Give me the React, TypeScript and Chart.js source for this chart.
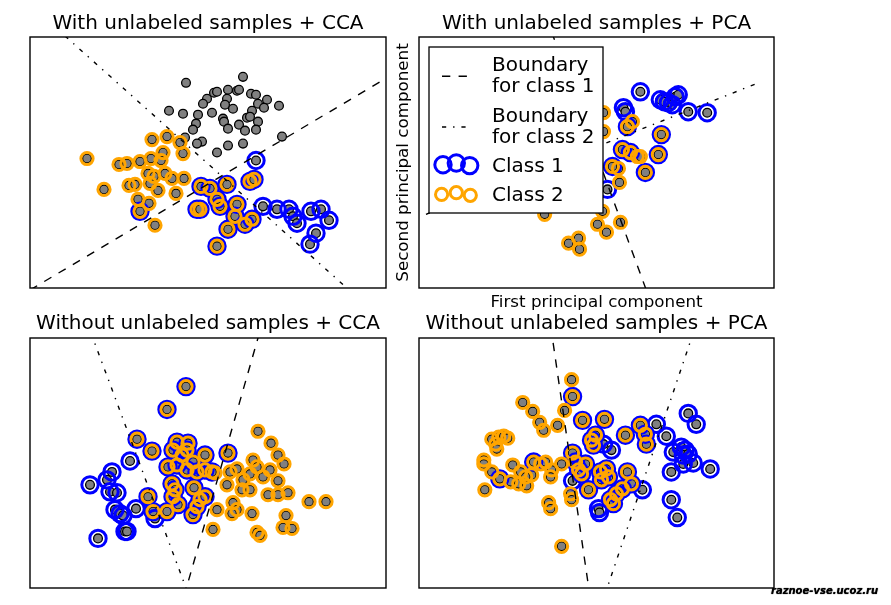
import { useEffect, useRef } from "react";
import { Chart, registerables } from "chart.js";

Chart.register(...registerables);

type P = [number, number];

const FONT = "'DejaVu Sans', 'Liberation Sans', sans-serif";

// ---------- Panel 1: With unlabeled samples + CCA ----------
const s1Unlabeled: P[] = [
  [156, 46], [213, 40], [184, 56], [187, 55], [198, 53], [207, 54], [209, 53], [221, 57], [226, 58],
  [237, 63], [177, 62], [173, 67], [197, 62], [195, 68], [203, 72], [228, 67], [234, 71], [249, 69],
  [222, 74], [139, 74], [153, 77], [168, 78], [182, 76], [217, 81], [193, 82], [194, 85], [209, 88],
  [220, 80], [228, 85], [166, 87], [163, 93], [198, 92], [215, 94], [226, 93], [155, 101], [172, 105],
  [167, 107], [198, 109], [213, 107], [252, 100], [187, 116],
];
const s1Class1: P[] = [
  [226, 124], [233, 170], [247, 173], [259, 173], [263, 180], [267, 187], [281, 175], [291, 173],
  [299, 184], [286, 197], [280, 208],
];
const s1Class2: P[] = [
  [57, 122], [122, 103], [137, 100], [150, 106], [153, 117], [133, 116], [121, 122], [110, 125],
  [131, 124], [89, 128], [97, 127], [118, 137], [124, 140], [135, 137], [142, 142], [154, 142],
  [99, 149], [105, 148], [120, 147], [128, 154], [146, 157], [74, 153], [108, 163], [119, 167], [125, 189],
];
const s1Both: P[] = [
  [110, 175], [171, 150], [180, 152], [197, 148], [220, 145], [224, 143], [167, 173], [170, 173],
  [190, 170], [187, 163], [207, 168], [205, 180], [215, 188], [222, 183], [198, 193], [187, 210],
];
const s1Boundary1: P[] = [[0, 254], [360, 39]];
const s1Boundary2: P[] = [[35, -1], [318, 253]];

// ---------- Panel 2: With unlabeled samples + PCA ----------
const s2Unlabeled: P[] = [];
const s2Class1: P[] = [
  [222, 55], [242, 63], [246, 65], [250, 66], [254, 68], [257, 60], [260, 58], [270, 75], [289, 76],
  [205, 71], [207, 75], [189, 153],
];
const s2Class2: P[] = [
  [185, 76], [185, 95], [214, 85], [219, 120], [222, 120], [200, 132], [201, 146],
  [184, 175], [126, 178], [179, 188], [188, 196], [202, 186], [160, 202], [150, 207], [161, 213],
];
const s2Both: P[] = [[209, 90], [204, 113], [212, 116], [243, 98], [240, 118], [194, 130], [227, 136]];
const s2Boundary1: P[] = [[133, -5], [229, 257]];
const s2Boundary2: P[] = [[7, 178], [343, 45]];

// ---------- Panel 3: Without unlabeled samples + CCA ----------
const s3Unlabeled: P[] = [];
const s3Class1: P[] = [
  [60, 148], [68, 202], [77, 143], [82, 135], [80, 155], [87, 156], [85, 173], [90, 177], [93, 179],
  [95, 195], [97, 195], [100, 124], [106, 172], [125, 182],
];
const s3Class2: P[] = [
  [228, 94], [241, 106], [248, 118], [254, 127], [223, 123], [227, 130], [207, 132], [200, 135],
  [197, 148], [213, 143], [220, 137], [233, 140], [240, 133], [248, 144], [212, 153], [220, 153],
  [238, 158], [248, 158], [258, 156], [279, 165], [296, 165], [203, 166], [207, 173], [202, 177],
  [187, 173], [222, 177], [256, 179], [253, 191], [262, 192], [183, 193], [227, 196], [230, 199], [185, 136],
];
const s3Both: P[] = [
  [156, 49], [137, 72], [107, 102], [122, 114], [198, 116], [118, 160], [123, 175], [137, 175],
  [147, 105], [158, 106], [157, 113], [143, 113], [152, 118], [175, 118], [163, 125], [138, 130],
  [147, 128], [157, 133], [167, 135], [175, 133], [182, 135], [142, 147], [145, 153], [143, 160],
  [164, 151], [170, 163], [175, 160], [167, 170], [163, 178], [148, 168],
];
const s3Boundary1: P[] = [[229.4, -5], [156.4, 252]];
const s3Boundary2: P[] = [[61, -5], [156, 252]];

// ---------- Panel 4: Without unlabeled samples + PCA ----------
const s4Unlabeled: P[] = [];
const s4Class1: P[] = [
  [238, 87], [248, 99], [270, 76], [278, 87], [255, 115], [263, 110], [267, 113], [265, 118],
  [270, 117], [275, 126], [265, 127], [253, 135], [292, 132], [224, 153], [253, 163], [259, 181],
  [180, 172], [181, 176], [193, 113], [185, 107], [154, 144],
];
const s4Class2: P[] = [
  [153, 42], [104, 65], [114, 74], [121, 85], [125, 93], [139, 88], [146, 73], [73, 102], [80, 100],
  [85, 99], [89, 101], [77, 107], [78, 112], [65, 123], [65, 127], [73, 135], [94, 128], [92, 145],
  [100, 147], [108, 149], [113, 138], [102, 135], [107, 140], [122, 127], [127, 125], [133, 133],
  [132, 140], [143, 127], [66, 153], [130, 166], [132, 172], [143, 210], [152, 157], [153, 163],
];
const s4Both: P[] = [
  [154, 59], [164, 83], [186, 82], [154, 116], [170, 153], [81, 142], [115, 125], [160, 133],
  [167, 127], [163, 137], [157, 125], [209, 135], [213, 147], [204, 152], [198, 157], [192, 163],
  [195, 167], [182, 135], [188, 132], [190, 140], [183, 143], [173, 103], [177, 98], [175, 108],
  [222, 88], [227, 97], [228, 107], [207, 98],
];
const s4Boundary1: P[] = [[134.5, 5], [170.5, 254]];
const s4Boundary2: P[] = [[275, -5], [188, 254]];

const panelTitles = [
  "With unlabeled samples + CCA",
  "With unlabeled samples + PCA",
  "Without unlabeled samples + CCA",
  "Without unlabeled samples + PCA",
];
const xAxisTitle = "First principal component";
const yAxisTitle = "Second principal component";
const legendLabels = [["Boundary", "for class 1"], ["Boundary", "for class 2"], ["Class 1"], ["Class 2"]];
const watermark = "raznoe-vse.ucoz.ru";

interface PanelDef {
  title: string;
  unlabeled: P[];
  class1: P[];
  class2: P[];
  both: P[];
  b1: P[];
  b2: P[];
  rect: { left: number; right: number; top: number; bottom: number; titleMid: number };
  axisTitles: boolean;
  legend: boolean;
}

const panels: PanelDef[] = [
  { title: panelTitles[0], unlabeled: s1Unlabeled, class1: s1Class1, class2: s1Class2, both: s1Both, b1: s1Boundary1, b2: s1Boundary2,
    rect: { left: 30, right: 386, top: 37, bottom: 288, titleMid: 23.7 }, axisTitles: false, legend: false },
  { title: panelTitles[1], unlabeled: s2Unlabeled, class1: s2Class1, class2: s2Class2, both: s2Both, b1: s2Boundary1, b2: s2Boundary2,
    rect: { left: 419, right: 774, top: 37, bottom: 288, titleMid: 23.7 }, axisTitles: true, legend: true },
  { title: panelTitles[2], unlabeled: s3Unlabeled, class1: s3Class1, class2: s3Class2, both: s3Both, b1: s3Boundary1, b2: s3Boundary2,
    rect: { left: 30, right: 386, top: 338, bottom: 588, titleMid: 323.4 }, axisTitles: false, legend: false },
  { title: panelTitles[3], unlabeled: s4Unlabeled, class1: s4Class1, class2: s4Class2, both: s4Both, b1: s4Boundary1, b2: s4Boundary2,
    rect: { left: 419, right: 774, top: 338, bottom: 588, titleMid: 323.4 }, axisTitles: false, legend: false },
];

const W = 891;
const H = 605;
const DASHED = [8.3, 8.3];
const DASHDOT = [4.2, 6.9, 1.4, 6.9];
const BLUE = "#0000ff";
const ORANGE = "#ffa500";
const BLUE_R = 8.2;
const ORANGE_R = 6.1;
const RING_W = 3.0;

const framePlugin = {
  id: "axesFrame",
  afterDraw(chart: any) {
    const { ctx, chartArea } = chart;
    ctx.save();
    ctx.strokeStyle = "#000";
    ctx.lineWidth = 1.4;
    ctx.strokeRect(chartArea.left, chartArea.top, chartArea.right - chartArea.left, chartArea.bottom - chartArea.top);
    ctx.restore();
  },
};

const legendPlugin = {
  id: "mplLegend",
  afterDatasetsDraw(chart: any) {
    const { ctx, chartArea } = chart;
    const L = chartArea.left;
    const T = chartArea.top;
    ctx.save();
    ctx.fillStyle = "#fff";
    ctx.strokeStyle = "#000";
    ctx.lineWidth = 1.3;
    ctx.fillRect(L + 10, T + 10, 174, 166);
    ctx.strokeRect(L + 10, T + 10, 174, 166);
    // line handles
    ctx.lineWidth = 1.4;
    ctx.setLineDash(DASHED);
    ctx.beginPath();
    ctx.moveTo(L + 23, T + 39.3);
    ctx.lineTo(L + 49, T + 39.3);
    ctx.stroke();
    ctx.setLineDash(DASHDOT);
    ctx.beginPath();
    ctx.moveTo(L + 23, T + 90);
    ctx.lineTo(L + 49, T + 90);
    ctx.stroke();
    ctx.setLineDash([]);
    // scatter handles
    const offs = [1.75, 0, 2.6];
    const bx = [24, 37.3, 50.7];
    ctx.lineWidth = RING_W;
    ctx.strokeStyle = BLUE;
    bx.forEach((x, i) => {
      ctx.beginPath();
      ctx.arc(L + x, T + 126 + offs[i], BLUE_R, 0, Math.PI * 2);
      ctx.stroke();
    });
    const ox = [22.6, 37.3, 51.3];
    ctx.strokeStyle = ORANGE;
    ox.forEach((x, i) => {
      ctx.beginPath();
      ctx.arc(L + x, T + 155.7 + offs[i], ORANGE_R, 0, Math.PI * 2);
      ctx.stroke();
    });
    // texts
    ctx.fillStyle = "#000";
    ctx.font = `20px ${FONT}`;
    ctx.textBaseline = "alphabetic";
    ctx.textAlign = "left";
    const baselines = [[34, 54.5], [85, 106], [135], [164]];
    legendLabels.forEach((lines, i) => {
      lines.forEach((t, j) => ctx.fillText(t, L + 73, T + baselines[i][j]));
    });
    ctx.restore();
  },
};

const toXY = (arr: P[]) => arr.map(([x, y]) => ({ x, y }));

function PanelChart({ p }: { p: PanelDef }) {
  const ref = useRef<HTMLCanvasElement>(null);
  useEffect(() => {
    if (!ref.current) return;
    const { rect } = p;
    const titleLine = 24;
    const layoutTop = rect.titleMid - titleLine / 2;
    const titleBottomPad = rect.top - layoutTop - titleLine;
    const axisLine = 16.7 * 1.2;
    const xTitlePadTop = 4.2;
    const yTitlePadBottom = 5.8;
    const padLeft = p.axisTitles ? rect.left - (axisLine + yTitlePadBottom) : rect.left;
    const padBottom = p.axisTitles ? H - rect.bottom - (axisLine + xTitlePadTop) : H - rect.bottom;

    const gray = toXY([...p.unlabeled, ...p.class1, ...p.class2, ...p.both]);
    const blue = toXY([...p.class1, ...p.both]);
    const orange = toXY([...p.class2, ...p.both]);

    const axisFont = { family: FONT, size: 16.7, weight: "normal" as const };

    const chart = new Chart(ref.current, {
      type: "scatter",
      data: {
        datasets: [
          {
            data: gray, showLine: false, pointRadius: 4.4, pointHoverRadius: 4.4,
            pointBackgroundColor: "#808080", pointBorderColor: "#000", pointBorderWidth: 1.3, order: 5,
          },
          {
            data: blue, showLine: false, pointRadius: BLUE_R, pointHoverRadius: BLUE_R,
            pointBackgroundColor: "rgba(0,0,0,0)", pointBorderColor: BLUE, pointBorderWidth: RING_W, order: 4,
          },
          {
            data: orange, showLine: false, pointRadius: ORANGE_R, pointHoverRadius: ORANGE_R,
            pointBackgroundColor: "rgba(0,0,0,0)", pointBorderColor: ORANGE, pointBorderWidth: RING_W, order: 3,
          },
          {
            type: "line", data: toXY(p.b1), showLine: true, borderColor: "#000", borderWidth: 1.4,
            borderDash: DASHED, pointRadius: 0, fill: false, order: 2, clip: 0,
          } as any,
          {
            type: "line", data: toXY(p.b2), showLine: true, borderColor: "#000", borderWidth: 1.4,
            borderDash: DASHDOT, pointRadius: 0, fill: false, order: 1, clip: 0,
          } as any,
        ],
      },
      options: {
        animation: false,
        responsive: false,
        events: [],
        layout: {
          autoPadding: false,
          padding: { left: padLeft, right: W - rect.right, top: layoutTop, bottom: padBottom },
        },
        scales: {
          x: {
            type: "linear", min: 0, max: 356, display: p.axisTitles,
            ticks: { display: false }, grid: { display: false, drawTicks: false }, border: { display: false },
            title: { display: p.axisTitles, text: xAxisTitle, color: "#000", font: axisFont, padding: { top: xTitlePadTop, bottom: 0 } },
          },
          y: {
            type: "linear", min: 0, max: 252, reverse: true, display: p.axisTitles,
            ticks: { display: false }, grid: { display: false, drawTicks: false }, border: { display: false },
            title: { display: p.axisTitles, text: yAxisTitle, color: "#000", font: axisFont, padding: { top: 0, bottom: yTitlePadBottom } },
          },
        },
        plugins: {
          legend: { display: false },
          tooltip: { enabled: false },
          title: {
            display: true, text: p.title, color: "#000", fullSize: false,
            font: { family: FONT, size: 20, weight: "normal" },
            padding: { top: 0, bottom: titleBottomPad },
          },
        },
      } as any,
      plugins: p.legend ? [framePlugin, legendPlugin] : [framePlugin],
    });
    return () => chart.destroy();
  }, [p]);
  return (
    <canvas
      ref={ref}
      width={W}
      height={H}
      style={{ position: "absolute", left: 0, top: 0, width: W, height: H }}
    />
  );
}

export default function App() {
  return (
    <div style={{ position: "absolute", left: 0, top: 0, width: W, height: H, background: "#fff", overflow: "hidden" }}>
      {panels.map((p, i) => (
        <PanelChart key={i} p={p} />
      ))}
      <div
        style={{
          position: "absolute", left: 771, top: 585, font: `italic bold 10px ${FONT}`, color: "#000",
          whiteSpace: "nowrap", textShadow: "0 0 1px #000",
        }}
      >
        {watermark}
      </div>
    </div>
  );
}
